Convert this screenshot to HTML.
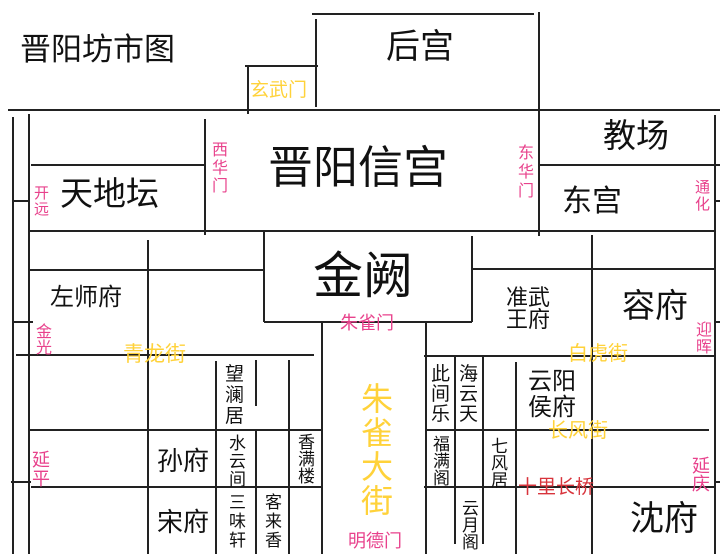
<!DOCTYPE html>
<html><head><meta charset="utf-8"><style>
html,body{margin:0;padding:0;background:#fff;}
svg{display:block;font-family:"Liberation Sans","Noto Sans CJK SC",sans-serif;}
.p{fill:#e8428c}.g{fill:#ffd23a}.k{fill:#111}
</style></head><body>
<svg width="720" height="554" viewBox="0 0 720 554" xmlns="http://www.w3.org/2000/svg">
<g stroke="#222" stroke-width="2" fill="none">
<line x1="312" y1="14" x2="534" y2="14"/>
<line x1="316" y1="19" x2="316" y2="107"/>
<line x1="245" y1="66" x2="318" y2="66"/>
<line x1="248" y1="66" x2="248" y2="114"/>
<line x1="8" y1="110" x2="720" y2="110"/>
<line x1="539" y1="12" x2="539" y2="236"/>
<line x1="13" y1="117" x2="13" y2="554"/>
<line x1="29" y1="114" x2="29" y2="554"/>
<line x1="31" y1="165" x2="205" y2="165"/>
<line x1="205" y1="119" x2="205" y2="235"/>
<line x1="13" y1="201" x2="29" y2="201"/>
<line x1="29" y1="231" x2="714" y2="231"/>
<line x1="539" y1="165" x2="720" y2="165"/>
<line x1="715" y1="115" x2="715" y2="554"/>
<line x1="715" y1="201" x2="720" y2="201"/>
<line x1="264" y1="232" x2="264" y2="322"/>
<line x1="264" y1="322" x2="472" y2="322"/>
<line x1="472" y1="236" x2="472" y2="322"/>
<line x1="148" y1="240" x2="148" y2="554"/>
<line x1="29" y1="270" x2="264" y2="270"/>
<line x1="472" y1="269" x2="715" y2="269"/>
<line x1="592" y1="235" x2="592" y2="554"/>
<line x1="322" y1="322" x2="322" y2="554"/>
<line x1="426" y1="322" x2="426" y2="554"/>
<line x1="16" y1="355" x2="314" y2="355"/>
<line x1="424" y1="356" x2="715" y2="356"/>
<line x1="13" y1="322" x2="33" y2="322"/>
<line x1="11" y1="482" x2="31" y2="482"/>
<line x1="715" y1="322" x2="720" y2="322"/>
<line x1="715" y1="482" x2="720" y2="482"/>
<line x1="216" y1="361" x2="216" y2="554"/>
<line x1="256" y1="360" x2="256" y2="406"/>
<line x1="256" y1="431" x2="256" y2="554"/>
<line x1="289" y1="360" x2="289" y2="554"/>
<line x1="28" y1="430" x2="323" y2="430"/>
<line x1="31" y1="487" x2="323" y2="487"/>
<line x1="455" y1="356" x2="455" y2="544"/>
<line x1="483" y1="356" x2="483" y2="544"/>
<line x1="516" y1="362" x2="516" y2="554"/>
<line x1="426" y1="430" x2="709" y2="430"/>
<line x1="424" y1="487" x2="715" y2="487"/>
</g>
<g class="k">
<text x="20" y="60" font-size="31">晋阳坊市图</text>
<text x="386" y="58" font-size="34">后宫</text>
<text x="268" y="183" font-size="45">晋阳信宫</text>
<text x="603" y="147" font-size="33">教场</text>
<text x="562" y="211" font-size="30">东宫</text>
<text x="60" y="205" font-size="33">天地坛</text>
<text x="313" y="293" font-size="50">金阙</text>
<text x="50" y="305" font-size="24">左师府</text>
<text x="506" y="305" font-size="22">准武</text>
<text x="506" y="327" font-size="22">王府</text>
<text x="622" y="317" font-size="33">容府</text>
<text x="157" y="470" font-size="26">孙府</text>
<text x="157" y="531" font-size="26">宋府</text>
<text x="528" y="389" font-size="24">云阳</text>
<text x="528" y="415" font-size="24">侯府</text>
<text x="630" y="530" font-size="34">沈府</text>
<g font-size="19">
<text x="225" y="380">望</text><text x="225" y="401">澜</text><text x="225" y="422">居</text>
<text x="431" y="380">此</text><text x="431" y="400">间</text><text x="431" y="420">乐</text>
<text x="459" y="380">海</text><text x="459" y="400">云</text><text x="459" y="420">天</text>
</g>
<g font-size="17">
<text x="229" y="449">水</text><text x="229" y="467">云</text><text x="229" y="485">间</text>
<text x="298" y="448">香</text><text x="298" y="465">满</text><text x="298" y="482">楼</text>
<text x="229" y="508">三</text><text x="229" y="527">味</text><text x="229" y="546">轩</text>
<text x="265" y="508">客</text><text x="265" y="527">来</text><text x="265" y="546">香</text>
<text x="433" y="450">福</text><text x="433" y="467">满</text><text x="433" y="484">阁</text>
<text x="491" y="452">七</text><text x="491" y="469">风</text><text x="491" y="486">居</text>
<text x="462" y="514">云</text><text x="462" y="531">月</text><text x="462" y="548">阁</text>
</g>
</g>
<g class="p">
<g font-size="16">
<text x="212" y="155">西</text><text x="212" y="173">华</text><text x="212" y="191">门</text>
<text x="518" y="158">东</text><text x="518" y="177">华</text><text x="518" y="196">门</text>
<text x="36" y="337">金</text><text x="36" y="353">光</text>
<text x="696" y="335">迎</text><text x="696" y="352">晖</text>
</g>
<g font-size="15">
<text x="34" y="198">开</text><text x="34" y="214">远</text>
<text x="695" y="192">通</text><text x="695" y="209">化</text>
</g>
<g font-size="18">
<text x="32" y="466">延</text><text x="32" y="485">平</text>
<text x="692" y="472">延</text><text x="692" y="490">庆</text>
<text x="340" y="329">朱雀门</text>
<text x="348" y="547">明德门</text>
</g>
</g>
<g class="g">
<text x="250" y="96" font-size="19">玄武门</text>
<text x="123" y="361" font-size="21">青龙街</text>
<text x="568" y="360" font-size="20">白虎街</text>
<text x="548" y="437" font-size="20">长风街</text>
<g font-size="32">
<text x="361" y="410">朱</text><text x="361" y="444">雀</text><text x="361" y="478">大</text><text x="361" y="512">街</text>
</g>
</g>
<text x="518" y="493" font-size="19" fill="#d8343c">十里长桥</text>
</svg>
</body></html>
